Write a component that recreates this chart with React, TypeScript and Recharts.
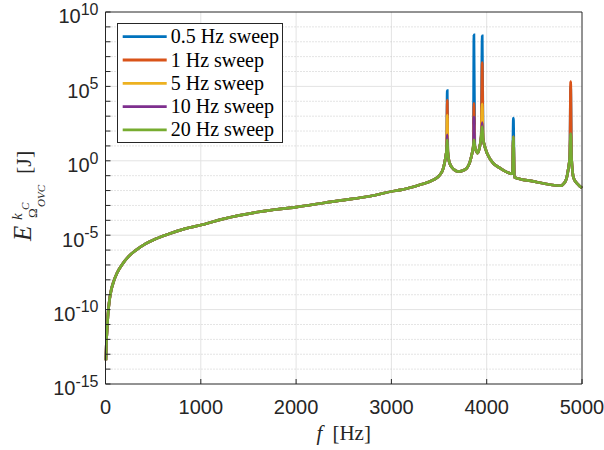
import React from 'react';
import { LineChart, Line, XAxis, YAxis, CartesianGrid, Legend } from 'recharts';

// frequency grid [Hz]
const freqHz = [
  4, 10, 16, 26, 40, 61, 86, 121, 173, 243,
  313, 418, 523, 663, 838, 1013, 1118, 1240, 1600, 2000,
  2450, 2800, 3000, 3100, 3300, 3440,
  3510, 3545, 3570, 3580, 3586, 3592, 3610, 3650, 3700, 3770,
  3825, 3850, 3860, 3866, 3875, 3890, 3904, 3925, 3942, 3953,
  3962, 3985, 4040, 4140, 4270, 4280, 4290, 4490, 4670, 4770,
  4825, 4855, 4872, 4881, 4890, 4912, 4960, 5000,
];

// kinetic energy [J] for the 20 Hz sweep; the slower sweeps only differ at the resonances
const energy20Hz = [
  4e-14, 8e-13, 3.5e-12, 4.6e-11, 3.6e-10, 2.2e-9, 7.9e-9, 2.9e-8, 1.05e-7, 3.8e-7,
  9.1e-7, 2.6e-6, 5.5e-6, 1.2e-5, 2.75e-5, 5e-5, 7.8e-5, 1.26e-4, 3.6e-4, 7.8e-4,
  2.1e-3, 4.5e-3, 8.7e-3, 1.1e-2, 2.45e-2, 5.2e-2,
  0.115, 0.32, 1.95, 6.3, 26, 4, 0.71, 0.28, 0.19, 0.25,
  0.89, 4, 10, 26, 10, 4.5, 3.3, 7.9, 40, 200,
  32, 7.1, 1.17, 0.32, 0.135, 40, 0.079, 0.041, 0.0245, 0.021,
  0.041, 0.25, 2, 65, 1.6, 0.069, 0.025, 0.0148,
];

// resonance peaks per sweep rate
const peakFreqHz = [3586, 3866, 3953, 4280, 4881];
const peak05Hz = [5.2e4, 2.9e8, 2.5e8, 7.4e2, 1e5];
const peak1Hz = [1.2e4, 7.4e3, 4e6, 40, 2.1e5];
const peak5Hz = [1.2e3, 3e2, 6.8e3, 40, 65];
const peak10Hz = [55, 8.5e2, 3.7e2, 40, 65];

const xTicks = [0, 1000, 2000, 3000, 4000, 5000];
const yTicks = [
  1e-15, 1e-14, 1e-13, 1e-12, 1e-11, 1e-10, 1e-9, 1e-8, 1e-7, 1e-6, 1e-5, 1e-4, 1e-3,
  1e-2, 1e-1, 1, 1e1, 1e2, 1e3, 1e4, 1e5, 1e6, 1e7, 1e8, 1e9, 1e10,
];
const yMajor = [1e-10, 1e-5, 1, 1e5];
const yMinor = yTicks.filter((v) => !yMajor.includes(v) && v !== 1e-15 && v !== 1e10);

const sweeps = [
  { key: 's05', name: '0.5 Hz sweep', color: '#0072BD', peaks: peak05Hz },
  { key: 's1', name: '1 Hz sweep', color: '#D95319', peaks: peak1Hz },
  { key: 's5', name: '5 Hz sweep', color: '#EDB120', peaks: peak5Hz },
  { key: 's10', name: '10 Hz sweep', color: '#7E2F8E', peaks: peak10Hz },
  { key: 's20', name: '20 Hz sweep', color: '#77AC30', peaks: null as number[] | null },
];

const data = freqHz.map((f, i) => {
  const row: Record<string, number> = { f };
  const k = peakFreqHz.indexOf(f);
  sweeps.forEach((s) => {
    row[s.key] = k >= 0 && s.peaks ? s.peaks[k] : energy20Hz[i];
  });
  return row;
});

const AXIS = '#262626';
const SANS = '"Liberation Sans", Arial, Helvetica, sans-serif';
const SERIF = '"Liberation Serif", "Times New Roman", serif';

const YTick = (props: any) => {
  const { x, y, payload } = props;
  const exp = Math.round(Math.log10(payload.value));
  if (exp % 5 !== 0) return <g />;
  return (
    <text x={x} y={y + 11.3} textAnchor="end" fontFamily={SANS} fontSize={20} fill={AXIS}>
      10
      <tspan dy={-8.5} fontSize={16}>{exp}</tspan>
    </text>
  );
};

const XTick = (props: any) => {
  const { x, y, payload } = props;
  return (
    <text x={x} y={y + 30} textAnchor="middle" fontFamily={SANS} fontSize={20} fill={AXIS}>
      {payload.value}
    </text>
  );
};

const YLabel = (props: any) => {
  const vb = props.viewBox;
  const cy = vb.y + vb.height / 2;
  return (
    <g transform={`translate(31, ${cy}) rotate(-90)`} fontFamily={SERIF} fill={AXIS}>
      <text x={-43} y={0} fontSize={25} fontStyle="italic">E</text>
      <text x={-22} y={-9} fontSize={15} fontStyle="italic">k</text>
      <text x={-20} y={6} fontSize={13}>Ω</text>
      <text x={-12} y={-2} fontSize={11} fontStyle="italic">C</text>
      <text x={-9} y={14} fontSize={11} fontStyle="italic">OVC</text>
      <text x={24} y={0} fontSize={22}>[J]</text>
    </g>
  );
};

const XLabel = (props: any) => {
  const vb = props.viewBox;
  const cx = vb.x + vb.width / 2;
  return (
    <text x={cx} y={440} textAnchor="middle" fontFamily={SERIF} fontSize={21} fill={AXIS}>
      <tspan fontStyle="italic">f</tspan>
      <tspan dx={10}>[Hz]</tspan>
    </text>
  );
};

const SweepLegend = (props: any) => {
  const order = sweeps.map((s) => s.name);
  const items = [...(props.payload || [])].sort(
    (a: any, b: any) => order.indexOf(a.value) - order.indexOf(b.value)
  );
  return (
    <div style={{ width: 166, height: 120, border: `1px solid ${AXIS}`, background: '#fff', boxSizing: 'border-box' }}>
      <svg width={164} height={118} style={{ display: 'block' }}>
        {items.map((p: any, i: number) => {
          const cy = 12.7 + i * 23.3;
          return (
            <g key={p.value}>
              <line x1={4.7} x2={48.7} y1={cy} y2={cy} stroke={p.color} strokeWidth={2.8} />
              <text x={52.7} y={cy + 6.5} fontFamily={SERIF} fontSize={20} fill="#000">
                {p.value}
              </text>
            </g>
          );
        })}
      </svg>
    </div>
  );
};

export default function App() {
  return (
    <div style={{ position: 'absolute', left: 0, top: 0, background: '#fff' }}>
      <LineChart width={604} height={450} data={data} margin={{ top: 11, right: 21, bottom: 0, left: 0 }}>
        <CartesianGrid horizontal={false} verticalValues={[1000, 2000, 3000, 4000]} stroke="#e3e3e3" />
        <CartesianGrid vertical={false} horizontalValues={yMinor} stroke="#c9c9c9" strokeDasharray="1 2" />
        <CartesianGrid vertical={false} horizontalValues={yMajor} stroke="#e3e3e3" />
        <XAxis
          dataKey="f"
          type="number"
          domain={[0, 5000]}
          ticks={xTicks}
          interval={0}
          height={66}
          tickSize={-5}
          tickMargin={5}
          stroke={AXIS}
          tick={<XTick />}
          label={<XLabel />}
        />
        <XAxis
          xAxisId="top"
          orientation="top"
          type="number"
          domain={[0, 5000]}
          ticks={xTicks}
          interval={0}
          height={1}
          tickSize={-5}
          stroke={AXIS}
          tick={false}
        />
        <YAxis
          scale="log"
          domain={[1e-15, 1e10]}
          allowDataOverflow
          ticks={yTicks}
          interval={0}
          width={105.5}
          tickSize={-5}
          tickMargin={12}
          stroke={AXIS}
          tick={<YTick />}
          label={<YLabel />}
        />
        <YAxis
          yAxisId="right"
          orientation="right"
          scale="log"
          domain={[1e-15, 1e10]}
          allowDataOverflow
          ticks={yTicks}
          interval={0}
          width={1}
          tickSize={-5}
          stroke={AXIS}
          tick={false}
        />
        <Legend
          layout="vertical"
          align="center"
          verticalAlign="middle"
          wrapperStyle={{ left: 117, top: 23, width: 166, height: 120 }}
          content={<SweepLegend />}
        />
        {sweeps.map((s) => (
          <Line
            key={s.key}
            dataKey={s.key}
            name={s.name}
            stroke={s.color}
            strokeWidth={2.7}
            dot={false}
            activeDot={false}
            type="monotone"
            isAnimationActive={false}
          />
        ))}
      </LineChart>
    </div>
  );
}
